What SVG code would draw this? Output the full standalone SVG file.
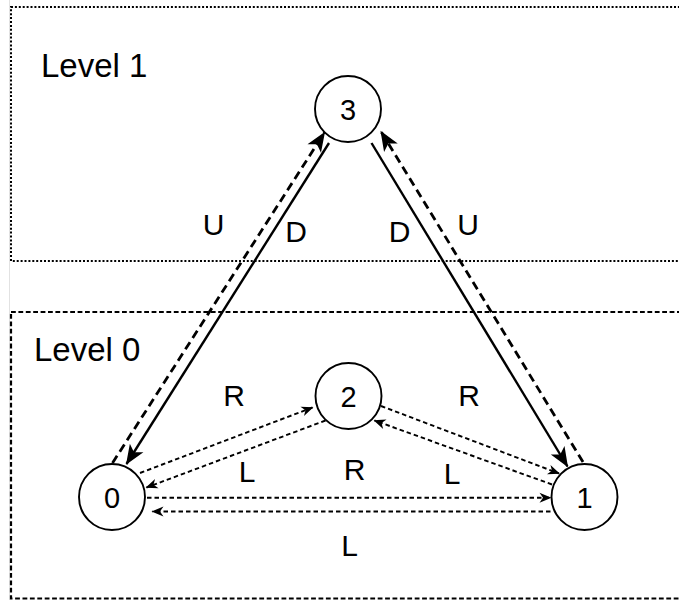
<svg xmlns="http://www.w3.org/2000/svg" width="679" height="600" viewBox="0 0 679 600">
  <style>
    .lvl { font-family: "Liberation Sans", Arial, sans-serif; font-size: 33px; fill: #000; }
    .lbl { font-family: "Liberation Sans", Arial, sans-serif; font-size: 30px; fill: #000; text-anchor: middle; }
    .num { font-family: "Liberation Sans", Arial, sans-serif; font-size: 29px; fill: #000; text-anchor: middle; }
    .node circle { fill: #fff; stroke: #000; stroke-width: 1.9; }
    .down { stroke: #000; stroke-width: 2.4; fill: none; marker-end: url(#bigHead); }
    .up { stroke: #000; stroke-width: 2.8; fill: none; stroke-dasharray: 8.5 5; marker-end: url(#bigHead); }
    .side { stroke: #000; stroke-width: 1.9; fill: none; stroke-dasharray: 4.5 3; marker-end: url(#smallHead); }
  </style>
  <defs>
    <marker id="bigHead" markerUnits="userSpaceOnUse" viewBox="-21 -10 23 20" refX="0" refY="0" markerWidth="23" markerHeight="20" orient="auto">
      <path d="M1,0 L-19,-8 L-14,0 L-19,8 Z" fill="#000"/>
    </marker>
    <marker id="smallHead" markerUnits="userSpaceOnUse" viewBox="-13 -7 15 14" refX="0" refY="0" markerWidth="15" markerHeight="14" orient="auto">
      <path d="M1,0 L-11,-5 L-7.5,0 L-11,5 Z" fill="#000"/>
    </marker>
  </defs>

  <rect width="679" height="600" fill="#fff"/>
  <line x1="9.5" y1="0" x2="9.5" y2="600" stroke="#e2e2e2" stroke-width="1"/>

  <!-- level frames -->
  <g id="level1">
    <rect x="11" y="7" width="690" height="254" fill="none" stroke="#000" stroke-width="2" stroke-dasharray="2 1.9"/>
    <text class="lvl" x="41" y="77">Level 1</text>
  </g>
  <g id="level0">
    <rect x="11" y="312" width="690" height="286.5" fill="none" stroke="#000" stroke-width="2.2" stroke-dasharray="4.8 2.6"/>
    <text class="lvl" x="34" y="361">Level 0</text>
  </g>

  <!-- connectors -->
  <g id="connectors">
    <line class="down" x1="329" y1="143" x2="126.5" y2="464"/>
    <line class="up" x1="112.5" y1="463" x2="324.5" y2="132.5"/>
    <line class="down" x1="371.5" y1="143" x2="567.5" y2="466.5"/>
    <line class="up" x1="583" y1="462" x2="381" y2="131.5"/>

    <line class="side" x1="140" y1="473" x2="312.5" y2="407.5"/>
    <line class="side" x1="325.5" y1="420.5" x2="146.5" y2="487.5"/>
    <line class="side" x1="381" y1="406" x2="559" y2="473.5"/>
    <line class="side" x1="552" y1="484.5" x2="374.5" y2="420.5"/>
    <line class="side" x1="147" y1="497.7" x2="550.5" y2="497.7"/>
    <line class="side" x1="550.5" y1="511.5" x2="152.5" y2="511.5"/>

    <text class="lbl" x="213.5" y="235">U</text>
    <text class="lbl" x="296" y="242">D</text>
    <text class="lbl" x="399.5" y="242">D</text>
    <text class="lbl" x="468" y="235">U</text>
    <text class="lbl" x="234" y="406">R</text>
    <text class="lbl" x="469" y="406">R</text>
    <text class="lbl" x="247" y="482">L</text>
    <text class="lbl" x="354.5" y="480">R</text>
    <text class="lbl" x="452" y="484">L</text>
    <text class="lbl" x="349.5" y="556">L</text>
  </g>

  <!-- nodes -->
  <g id="node3" class="node">
    <circle cx="348" cy="109" r="33"/>
    <text class="num" x="348" y="119.5">3</text>
  </g>
  <g id="node2" class="node">
    <circle cx="348.5" cy="396" r="33"/>
    <text class="num" x="348.5" y="406.5">2</text>
  </g>
  <g id="node0" class="node">
    <circle cx="112" cy="497" r="33"/>
    <text class="num" x="112" y="507.5">0</text>
  </g>
  <g id="node1" class="node">
    <circle cx="584.5" cy="497" r="33"/>
    <text class="num" x="584.5" y="507.5">1</text>
  </g>
</svg>
